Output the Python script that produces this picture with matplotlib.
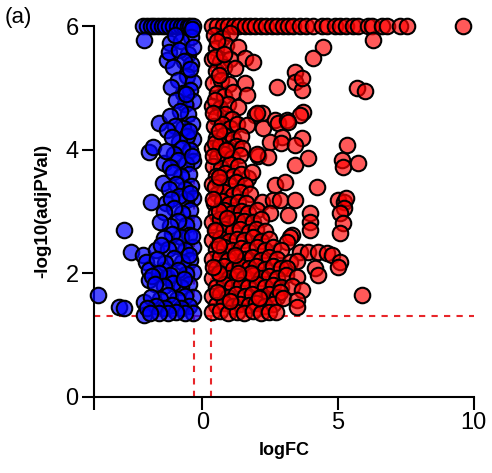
import matplotlib
matplotlib.use("Agg")
import matplotlib.pyplot as plt

plt.rcParams['font.family'] = ['Liberation Sans', 'DejaVu Sans']

# thresholds drawn as dashed lines
fc_cut = 0.33
p_cut = 1.301   # -log10(0.05)

# points capped at -log10(adjPVal) = 6
blue_top_x = [-2.2, -2.05, -1.9, -1.8, -1.65, -1.5, -1.4, -1.25, -1.1, -0.95,
              -0.8, -0.7, -0.55, -0.45, -0.35]
red_top_x = [0.35, 0.55, 0.75, 0.95, 1.15, 1.35, 1.55, 1.75, 1.95, 2.15, 2.35,
             2.55, 2.75, 2.95, 3.15, 3.35, 3.6, 3.8, 4.08, 4.41, 4.6, 4.89, 5.07,
             5.3, 5.55, 5.74, 6.1, 6.25, 6.62, 6.8, 7.28, 7.54, 9.6]

# down-regulated (logFC, -log10 adjPVal)
blue_pts = [
    (-2.17, 5.78), (-1.29, 5.45), (-1.18, 5.73), (-1.25, 5.58), (-1.6, 4.43),
    (-1.98, 3.96), (-1.84, 4.05), (-1.43, 3.79), (-1.47, 3.46), (-1.91, 3.16),
    (-1.36, 3.14), (-2.9, 2.7), (-2.65, 2.35), (-2.2, 2.3), (-2.1, 2.18),
    (-1.98, 2.05), (-1.73, 2.38), (-1.98, 1.89), (-3.86, 1.65), (-3.09, 1.46),
    (-2.9, 1.44), (-2.17, 1.54), (-2.17, 1.33), (-1.47, 2.05), (-1.29, 1.94),
    (-0.42, 5.82), (-0.78, 5.76), (-1.02, 5.85), (-0.55, 5.55),
    (-0.88, 5.62), (-0.35, 5.66), (-0.41, 5.38), (-0.69, 5.44), (-1.08, 5.33),
    (-0.57, 5.19), (-0.92, 5.12), (-0.34, 5.1), (-0.47, 4.97), (-0.73, 4.92),
    (-1.15, 5.02), (-0.36, 4.78), (-0.63, 4.74), (-0.98, 4.81), (-0.52, 4.58),
    (-0.84, 4.62), (-1.21, 4.55), (-0.39, 4.41), (-0.71, 4.35), (-1.01, 4.38),
    (-1.32, 4.31), (-0.35, 4.18), (-0.58, 4.22), (-0.88, 4.12), (-1.13, 4.2),
    (-0.46, 3.99), (-0.77, 4.02), (-1.06, 3.93), (-1.33, 3.98), (-0.34, 3.81),
    (-0.61, 3.77), (-0.91, 3.84), (-1.19, 3.72), (-0.5, 3.6), (-0.79, 3.57),
    (-1.09, 3.63), (-0.41, 3.41), (-0.66, 3.37), (-0.97, 3.44), (-1.24, 3.36),
    (-0.35, 3.22), (-0.62, 3.18), (-0.86, 3.25), (-1.16, 3.2), (-0.45, 3.03),
    (-0.74, 2.97), (-1.04, 3.05), (-1.41, 2.99), (-0.36, 2.82), (-0.6, 2.78),
    (-0.9, 2.85), (-1.18, 2.77), (-1.55, 2.83), (-0.51, 2.62), (-0.79, 2.58),
    (-1.11, 2.64), (-1.42, 2.57), (-0.35, 2.42), (-0.64, 2.37), (-0.96, 2.44),
    (-1.26, 2.39), (-1.52, 2.45), (-0.46, 2.21), (-0.76, 2.18), (-1.06, 2.24),
    (-1.37, 2.17), (-1.68, 2.23), (-0.36, 2.02), (-0.62, 1.98), (-0.91, 2.05),
    (-1.21, 1.97), (-1.62, 2.01), (-1.86, 1.96), (-0.49, 1.82), (-0.81, 1.77),
    (-1.09, 1.84), (-1.41, 1.79), (-1.74, 1.83), (-0.35, 1.61), (-0.66, 1.63),
    (-0.94, 1.58), (-1.26, 1.64), (-1.56, 1.59), (-1.89, 1.62), (-0.51, 1.47),
    (-0.81, 1.44), (-1.11, 1.48), (-1.39, 1.43), (-1.71, 1.47), (-2.04, 1.44),
    (-0.35, 1.36), (-0.64, 1.35), (-0.96, 1.37), (-1.26, 1.35), (-1.59, 1.36),
    (-1.94, 1.35), (-0.45, 5.3), (-0.5, 4.3), (-0.45, 3.3), (-0.5, 2.3),
    (-0.38, 5.95), (-0.6, 4.9), (-0.38, 3.9), (-0.38, 2.6), (-0.7, 1.9),
]

# up-regulated (logFC, -log10 adjPVal)
red_pts = [
    (6.29, 5.78), (4.45, 5.66), (4.08, 5.48), (3.42, 5.26), (3.42, 5.10),
    (3.68, 4.97), (5.70, 5.0), (5.99, 4.95), (2.76, 5.02), (3.68, 5.16),
    (0.41, 5.86), (0.72, 5.81), (1.02, 5.88), (0.5, 5.64), (0.86, 5.69),
    (1.32, 5.66), (0.35, 5.46), (0.66, 5.41), (1.01, 5.47), (1.58, 5.49),
    (1.88, 5.42), (0.51, 5.28), (0.81, 5.33), (1.21, 5.32), (0.38, 5.08),
    (0.69, 5.13), (0.96, 5.06), (1.58, 5.08), (0.52, 4.91), (0.79, 4.86),
    (1.12, 4.93), (1.65, 4.89), (0.35, 4.71), (0.64, 4.67), (0.94, 4.74),
    (1.31, 4.69), (0.49, 4.52), (0.82, 4.57), (1.09, 4.5), (1.95, 4.56),
    (2.2, 4.6), (2.0, 4.6), (3.71, 4.61), (3.6, 4.56),
    (0.41, 4.38), (0.71, 4.42), (1.01, 4.35), (1.26, 4.41), (1.65, 4.4),
    (2.24, 4.35), (2.68, 4.48), (2.79, 4.43), (3.12, 4.48), (3.16, 4.45),
    (0.51, 4.19), (0.78, 4.24), (1.12, 4.17), (1.42, 4.22), (2.94, 4.21),
    (3.68, 4.19), (0.35, 4.03), (0.66, 4.07), (0.94, 4.01), (1.24, 4.06),
    (1.47, 4.03), (2.5, 4.13), (2.9, 4.1), (3.42, 4.08), (5.33, 4.08),
    (0.52, 3.88), (0.81, 3.93), (1.08, 3.86), (1.39, 3.91), (2.05, 3.9),
    (2.4, 3.88), (2.0, 3.93), (3.9, 3.87), (0.39, 3.74), (0.69, 3.71),
    (1.01, 3.77), (1.31, 3.73), (1.69, 3.54), (3.42, 3.75), (5.15, 3.83),
    (5.18, 3.72), (5.74, 3.79), (0.49, 3.58), (0.82, 3.62), (1.11, 3.57),
    (1.41, 3.61), (1.84, 3.64), (0.35, 3.44), (0.64, 3.47), (0.96, 3.42),
    (1.24, 3.48), (1.56, 3.43), (2.68, 3.43), (3.05, 3.48), (4.23, 3.4),
    (0.52, 3.28), (0.79, 3.32), (1.12, 3.27), (1.39, 3.31), (1.76, 3.29),
    (0.41, 3.13), (0.71, 3.17), (0.99, 3.12), (1.31, 3.16), (1.61, 3.13),
    (2.2, 3.15), (2.6, 3.18), (2.87, 3.19), (3.42, 3.19), (5.0, 3.19),
    (5.2, 3.15), (5.3, 3.21), (5.2, 3.05), (0.49, 2.98), (0.81, 3.02),
    (1.09, 2.97), (1.41, 3.01), (1.69, 2.97), (2.02, 3.02), (2.5, 2.98),
    (3.16, 2.95), (3.97, 2.98), (5.07, 2.98), (0.36, 2.83), (0.66, 2.87),
    (0.94, 2.82), (1.26, 2.86), (1.54, 2.84), (1.86, 2.83), (2.16, 2.87),
    (3.97, 2.83), (5.18, 2.82), (0.51, 2.68), (0.79, 2.72), (1.11, 2.69),
    (1.39, 2.71), (1.71, 2.67), (1.99, 2.72), (2.31, 2.68), (3.97, 2.7),
    (3.3, 2.62), (5.07, 2.65), (0.35, 2.54), (0.64, 2.57), (0.96, 2.52),
    (1.26, 2.56), (1.54, 2.53), (1.86, 2.58), (2.16, 2.52), (2.44, 2.56),
    (3.24, 2.59), (3.1, 2.5), (0.49, 2.39), (0.81, 2.42), (1.09, 2.37),
    (1.41, 2.41), (1.69, 2.38), (2.01, 2.43), (2.29, 2.38), (2.61, 2.42),
    (2.89, 2.37), (3.6, 2.35), (3.9, 2.35), (4.26, 2.35), (4.6, 2.33),
    (4.78, 2.3), (5.07, 2.18), (5.0, 2.1), (0.36, 2.23), (0.66, 2.27),
    (0.94, 2.22), (1.24, 2.26), (1.56, 2.23), (1.84, 2.27), (2.16, 2.22),
    (2.44, 2.26), (2.76, 2.23), (3.24, 2.18), (3.5, 2.2), (0.51, 2.08),
    (0.79, 2.12), (1.11, 2.07), (1.39, 2.11), (1.71, 2.08), (1.99, 2.12),
    (2.31, 2.07), (2.59, 2.11), (2.91, 2.08), (3.12, 2.09), (4.15, 2.09),
    (4.26, 1.97), (0.35, 1.93), (0.64, 1.97), (0.96, 1.92), (1.26, 1.96),
    (1.54, 1.93), (1.86, 1.97), (2.14, 1.92), (2.46, 1.96), (2.74, 1.93),
    (3.06, 1.97), (3.49, 1.94), (0.49, 1.78), (0.81, 1.82), (1.09, 1.77),
    (1.41, 1.81), (1.69, 1.78), (2.01, 1.82), (2.29, 1.77), (2.61, 1.81),
    (2.89, 1.78), (3.3, 1.8), (0.36, 1.63), (0.66, 1.67), (0.94, 1.62),
    (1.24, 1.66), (1.56, 1.63), (1.84, 1.67), (2.16, 1.62), (2.44, 1.66),
    (2.76, 1.62), (2.87, 1.7), (3.68, 1.73), (5.88, 1.65), (0.51, 1.48),
    (0.79, 1.52), (1.11, 1.47), (1.39, 1.51), (1.71, 1.48), (1.99, 1.52),
    (2.31, 1.47), (2.59, 1.51), (2.98, 1.6), (3.49, 1.57), (3.49, 1.46),
    (0.35, 1.37), (0.66, 1.39), (0.94, 1.36), (1.26, 1.38), (1.54, 1.36),
    (1.86, 1.39), (2.14, 1.36), (2.46, 1.38), (2.7, 1.37),
    (0.45, 5.5), (0.45, 4.8), (0.45, 4.1), (0.45, 3.4), (0.45, 2.7),
    (0.6, 3.0), (0.6, 2.0), (1.2, 2.3), (1.8, 2.0), (2.1, 1.6),
    (0.55, 5.75), (0.6, 5.2), (0.38, 4.6), (0.6, 4.3), (0.38, 3.9),
    (0.6, 3.55), (0.38, 3.2), (0.6, 2.45), (0.38, 2.1), (0.55, 1.7),
    (0.8, 5.55), (0.85, 4.0), (0.9, 2.9), (1.0, 1.55), (1.3, 2.0),
]

blue_x = blue_top_x + [p[0] for p in blue_pts]
blue_y = [6.0] * len(blue_top_x) + [p[1] for p in blue_pts]
red_x = red_top_x + [p[0] for p in red_pts]
red_y = [6.0] * len(red_top_x) + [p[1] for p in red_pts]

fig = plt.figure(figsize=(4.92, 4.73), dpi=100)
ax = fig.add_axes([0.191, 0.161, 0.772, 0.784])

ax.axhline(p_cut, color='#e8262a', ls=(0, (3, 3)), lw=1.5, zorder=1)
ax.axvline(-fc_cut, color='#e8262a', ls=(0, (3, 3)), lw=1.5, zorder=1)
ax.axvline(fc_cut, color='#e8262a', ls=(0, (3, 3)), lw=1.5, zorder=1)

ax.scatter(blue_x, blue_y, s=125, facecolor=(0, 0, 1, 0.7), edgecolor='black',
           linewidth=1.5, zorder=3, clip_on=False)
ax.scatter(red_x, red_y, s=125, facecolor=(1, 0, 0, 0.65), edgecolor='black',
           linewidth=1.5, zorder=3, clip_on=False)

ax.set_xlim(-4, 10)
ax.set_ylim(0, 6)
ax.set_xticks([-4, 0, 5, 10])
ax.set_xticklabels(['', '0', '5', '10'])
ax.set_yticks([0, 2, 4, 6])
ax.tick_params(length=9, width=1.5, labelsize=17, pad=2)
for side in ['top', 'right']:
    ax.spines[side].set_visible(False)
for side in ['left', 'bottom']:
    ax.spines[side].set_linewidth(1.5)

ax.set_xlabel('logFC', fontsize=13, fontweight='bold', labelpad=6)
ax.set_ylabel('-log10(adjPVal)', fontsize=13.5, fontweight='bold', labelpad=10)
fig.text(0.01, 0.985, '(a)', fontsize=16, va='top', ha='left')

fig.savefig('out.png', dpi=100)
